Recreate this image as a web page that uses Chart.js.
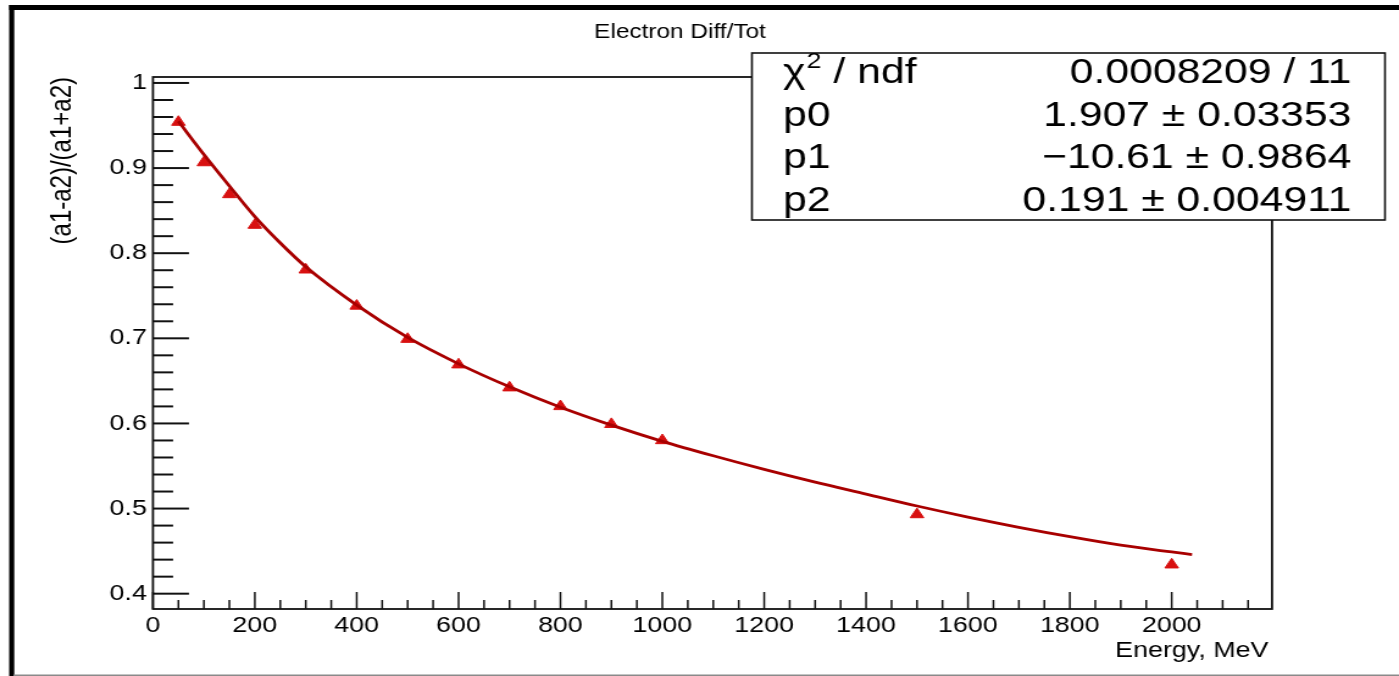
<!DOCTYPE html>
<html>
<head>
<meta charset="utf-8">
<title>Electron Diff/Tot</title>
<script src="https://cdn.jsdelivr.net/npm/chart.js@4.4.1/dist/chart.umd.min.js"></script>
<style>
  html, body { margin: 0; padding: 0; background: #fff; overflow: hidden; }
  #plot { display: block; }
</style>
</head>
<body>
<!-- drawn narrower and stretched across the window -->
<canvas id="plot" width="1147" height="676" style="width:1399px;height:676px"></canvas>
<script>
// measured points
const energies = [50, 100, 150, 200, 300, 400, 500, 600, 700, 800, 900, 1000, 1500, 2000];
const ratios = [0.954, 0.9065, 0.869, 0.833, 0.7805, 0.738, 0.699, 0.669, 0.642, 0.620, 0.599, 0.580, 0.493, 0.434];

// fitted curve, sampled along the drawn line
const fitEnergies = [50, 100, 150, 200, 250, 300, 400, 500, 600, 700, 800, 900, 1000, 1100, 1200, 1300, 1400, 1500, 1600, 1700, 1800, 1900, 2000, 2040];
const fitValues = [0.955, 0.916, 0.879, 0.843, 0.812, 0.784, 0.739, 0.701, 0.670, 0.643, 0.619, 0.598, 0.579, 0.562, 0.546, 0.531, 0.517, 0.503, 0.490, 0.478, 0.467, 0.457, 0.449, 0.446];

// labelled axis ticks
const xTicks = [0, 200, 400, 600, 800, 1000, 1200, 1400, 1600, 1800, 2000];
const yTicks = [0.4, 0.5, 0.6, 0.7, 0.8, 0.9, 1];

// fit results box
const statNames = ["p0", "p1", "p2"];
const statValues = ["1.907 \u00b1 0.03353", "\u221210.61 \u00b1 0.9864", "0.191 \u00b1 0.004911"];
const chi2Text = "0.0008209 / 11";

const FONT = "'Liberation Sans', Arial, Helvetica, sans-serif";

function line(ctx, x1, y1, x2, y2) {
  ctx.beginPath();
  ctx.moveTo(x1, y1);
  ctx.lineTo(x2, y2);
  ctx.stroke();
}

const rootFrame = {
  id: "rootFrame",
  beforeDraw(chart) {
    const ctx = chart.ctx;
    ctx.save();
    ctx.fillStyle = "#fff";
    ctx.fillRect(0, 0, chart.width, chart.height);
    // outer frame of the image
    ctx.fillStyle = "#000";
    ctx.fillRect(7.5, 5, chart.width, 5);
    ctx.fillRect(7.5, 5, 4.2, chart.height);
    ctx.fillStyle = "#8a8a8a";
    ctx.fillRect(11, 674.5, chart.width, 1.5);
    ctx.restore();
  },
  afterDatasetsDraw(chart) {
    const ctx = chart.ctx;
    const { left, right, top, bottom } = chart.chartArea;
    const xs = chart.scales.x, ys = chart.scales.y;
    ctx.save();
    ctx.strokeStyle = "#111";
    ctx.lineWidth = 1.8;
    ctx.strokeRect(left, top, right - left, bottom - top);

    // inward tick marks on the x axis: major every 200, minor every 50
    ctx.lineWidth = 1.5;
    for (let i = 0; i * 50 <= xs.max; i++) {
      const px = xs.getPixelForValue(i * 50);
      const len = i % 4 === 0 ? 17 : 9;
      line(ctx, px, bottom, px, bottom - len);
    }
    // y axis: major every 0.1, minor every 0.02
    ctx.lineWidth = 2;
    for (let i = Math.ceil(ys.min / 0.02 - 1e-6); i * 0.02 <= ys.max + 1e-9; i++) {
      const py = ys.getPixelForValue(i * 0.02);
      const len = i % 5 === 0 ? 29.5 : 16.5;
      line(ctx, left, py, left + len, py);
    }

    // title
    ctx.fillStyle = "#000";
    ctx.font = `20px ${FONT}`;
    ctx.textAlign = "center";
    ctx.textBaseline = "middle";
    ctx.fillText("Electron Diff/Tot", 557.5, 32);

    // x axis title, right aligned to the frame
    ctx.font = `22px ${FONT}`;
    ctx.textAlign = "right";
    ctx.fillText("Energy, MeV", right - 3, 651);

    // y axis title, rotated, ending at the top of the frame
    ctx.save();
    ctx.translate(51.5, top);
    ctx.rotate(-Math.PI / 2);
    ctx.font = `24px ${FONT}`;
    ctx.textAlign = "right";
    ctx.textBaseline = "middle";
    ctx.fillText("(a1-a2)/(a1+a2)", 0, 0);
    ctx.restore();

    // stats box
    const bx = 616.5, by = 53, bw = 519, bh = 167;
    ctx.fillStyle = "#fff";
    ctx.fillRect(bx, by, bw, bh);
    ctx.strokeStyle = "#111";
    ctx.lineWidth = 1.6;
    ctx.strokeRect(bx, by, bw, bh);

    ctx.fillStyle = "#000";
    ctx.textBaseline = "middle";
    const rowY = [73, 116, 158, 201];
    const tx = 642, vx = 1108;
    ctx.font = `35px ${FONT}`;
    ctx.textAlign = "left";
    ctx.fillText("\u03c7", tx, rowY[0]);
    const chiW = ctx.measureText("\u03c7").width;
    ctx.font = `22px ${FONT}`;
    ctx.fillText("2", tx + chiW + 1, rowY[0] - 11);
    const supW = ctx.measureText("2").width;
    ctx.font = `35px ${FONT}`;
    ctx.fillText(" / ndf", tx + chiW + supW + 1, rowY[0]);
    ctx.textAlign = "right";
    ctx.fillText(chi2Text, vx, rowY[0]);
    statNames.forEach((name, i) => {
      ctx.textAlign = "left";
      ctx.fillText(name, tx, rowY[i + 1]);
      ctx.textAlign = "right";
      ctx.fillText(statValues[i], vx, rowY[i + 1]);
    });
    ctx.restore();
  }
};

const ctx = document.getElementById("plot").getContext("2d");
new Chart(ctx, {
  type: "scatter",
  data: {
    datasets: [
      {
        type: "line",
        label: "fit",
        data: fitEnergies.map((e, i) => ({ x: e, y: fitValues[i] })),
        borderColor: "#a80000",
        borderWidth: 2.8,
        pointRadius: 0,
        cubicInterpolationMode: "monotone",
        fill: false
      },
      {
        label: "data",
        data: energies.map((e, i) => ({ x: e, y: ratios[i] })),
        pointStyle: "triangle",
        pointRadius: 6.4,
        pointBackgroundColor: "#d81010",
        pointBorderColor: "#d81010",
        pointBorderWidth: 1,
        showLine: false
      }
    ]
  },
  options: {
    responsive: false,
    devicePixelRatio: 1,
    animation: false,
    events: [],
    layout: { padding: { left: 0, top: 77, right: 104.1, bottom: 0 } },
    plugins: {
      legend: { display: false },
      title: { display: false },
      tooltip: { enabled: false }
    },
    scales: {
      x: {
        type: "linear",
        min: 0,
        max: 2197,
        grid: { display: false, drawTicks: false },
        border: { display: false },
        afterBuildTicks: s => { s.ticks = xTicks.map(v => ({ value: v })); },
        afterFit: s => { s.height = 67; },
        ticks: {
          maxRotation: 0,
          autoSkip: false,
          padding: 4,
          color: "#000",
          font: { family: FONT, size: 22 },
          callback: v => String(v)
        }
      },
      y: {
        type: "linear",
        min: 0.382,
        max: 1.007,
        grid: { display: false, drawTicks: false },
        border: { display: false },
        afterBuildTicks: s => { s.ticks = yTicks.map(v => ({ value: v })); },
        afterFit: s => { s.width = 125.4; },
        ticks: {
          padding: 5,
          color: "#000",
          font: { family: FONT, size: 22 },
          callback: v => String(v)
        }
      }
    }
  },
  plugins: [rootFrame]
});
</script>
</body>
</html>
